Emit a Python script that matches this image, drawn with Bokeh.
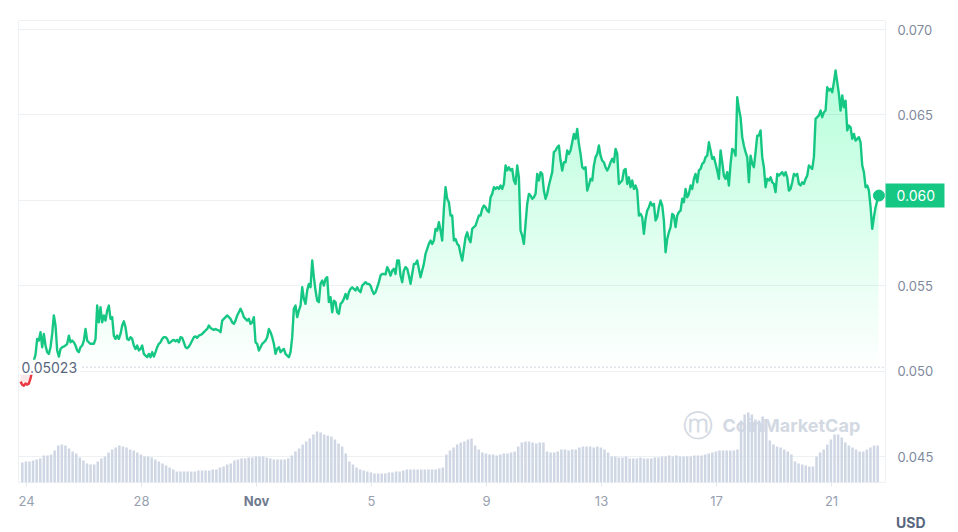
import numpy as np
import pandas as pd
from bokeh.plotting import figure
from bokeh.models import (Range1d, FixedTicker, PrintfTickFormatter, Span, Label, Title,
                          LinearAxis, DatetimeAxis)
from bokeh.embed import file_html
from bokeh.resources import INLINE

# ---------------- data ----------------
price_start = "2023-10-23 19:00"
price_step = "5009s"
price = [
    0.04939, 0.04921, 0.04915, 0.04927, 0.04921, 0.04927, 0.04957, 0.05003, 0.05062, 0.05097,
    0.05189, 0.05179, 0.05228, 0.05140, 0.05218, 0.05150, 0.05111, 0.05101, 0.05140, 0.05218,
    0.05326, 0.05267, 0.05121, 0.05085, 0.05130, 0.05140, 0.05144, 0.05150, 0.05160, 0.05208,
    0.05169, 0.05179, 0.05169, 0.05150, 0.05121, 0.05111, 0.05140, 0.05150, 0.05179, 0.05247,
    0.05179, 0.05169, 0.05160, 0.05160, 0.05160, 0.05189, 0.05384, 0.05286, 0.05374, 0.05286,
    0.05326, 0.05296, 0.05355, 0.05384, 0.05306, 0.05316, 0.05208, 0.05189, 0.05208, 0.05189,
    0.05218, 0.05267, 0.05292, 0.05257, 0.05189, 0.05183, 0.05199, 0.05189, 0.05150, 0.05130,
    0.05150, 0.05121, 0.05130, 0.05150, 0.05101, 0.05091, 0.05082, 0.05101, 0.05082, 0.05111,
    0.05085, 0.05111, 0.05140, 0.05160, 0.05169, 0.05189, 0.05199, 0.05199, 0.05189, 0.05164,
    0.05169, 0.05179, 0.05183, 0.05175, 0.05183, 0.05169, 0.05199, 0.05195, 0.05169, 0.05140,
    0.05134, 0.05144, 0.05160, 0.05179, 0.05199, 0.05203, 0.05195, 0.05208, 0.05212, 0.05218,
    0.05228, 0.05238, 0.05247, 0.05267, 0.05253, 0.05247, 0.05242, 0.05247, 0.05242, 0.05238,
    0.05228, 0.05296, 0.05306, 0.05316, 0.05326, 0.05316, 0.05306, 0.05286, 0.05277, 0.05296,
    0.05326, 0.05345, 0.05365, 0.05345, 0.05316, 0.05306, 0.05296, 0.05306,
    0.05277, 0.05286, 0.05316, 0.05169, 0.05160, 0.05121, 0.05140, 0.05160, 0.05169, 0.05179,
    0.05199, 0.05247, 0.05228, 0.05199, 0.05160, 0.05101, 0.05130, 0.05140, 0.05111, 0.05121,
    0.05130, 0.05101, 0.05091, 0.05082, 0.05111, 0.05199, 0.05365, 0.05384, 0.05316, 0.05355,
    0.05384, 0.05491, 0.05423, 0.05394, 0.05472, 0.05511, 0.05491, 0.05648, 0.05550, 0.05472,
    0.05413, 0.05404, 0.05511, 0.05530, 0.05501, 0.05540, 0.05550, 0.05404, 0.05433, 0.05345,
    0.05413, 0.05404, 0.05345, 0.05335, 0.05394, 0.05404, 0.05423, 0.05452, 0.05423, 0.05462,
    0.05482, 0.05491, 0.05482, 0.05472, 0.05491, 0.05472, 0.05462, 0.05501, 0.05511, 0.05521,
    0.05511, 0.05511, 0.05501, 0.05472, 0.05452, 0.05462, 0.05491, 0.05521, 0.05560, 0.05569,
    0.05569, 0.05566, 0.05609, 0.05589, 0.05560, 0.05589, 0.05599, 0.05569, 0.05648, 0.05648,
    0.05560, 0.05521, 0.05589, 0.05609, 0.05599, 0.05560, 0.05511, 0.05569, 0.05628, 0.05628,
    0.05648, 0.05599, 0.05550, 0.05589, 0.05628, 0.05687, 0.05716, 0.05745, 0.05765, 0.05745,
    0.05765, 0.05833, 0.05823, 0.05872, 0.05823, 0.05765, 0.05950, 0.06077, 0.06009, 0.05989,
    0.05911, 0.05911, 0.05765, 0.05774, 0.05745, 0.05735, 0.05687, 0.05648, 0.05716, 0.05784,
    0.05813, 0.05774, 0.05755, 0.05833, 0.05843, 0.05852, 0.05882, 0.05911,
    0.05911, 0.05950, 0.05970, 0.05960, 0.05940, 0.05931, 0.06018, 0.06038, 0.06077, 0.06067,
    0.06077, 0.06067, 0.06087, 0.06067, 0.06096, 0.06204, 0.06175, 0.06194, 0.06175, 0.06184,
    0.06116, 0.06096, 0.06204, 0.06135, 0.05823, 0.05794, 0.05745, 0.05862, 0.05979, 0.06038,
    0.06028, 0.06009, 0.06018, 0.06038, 0.06155, 0.06116, 0.06165, 0.06155, 0.06057, 0.06009,
    0.06038, 0.06087, 0.06126, 0.06165, 0.06282, 0.06292, 0.06311, 0.06321, 0.06233, 0.06175,
    0.06223, 0.06223, 0.06292, 0.06272, 0.06292, 0.06340, 0.06389, 0.06360, 0.06418, 0.06331,
    0.06272, 0.06194, 0.06184, 0.06194, 0.06057, 0.06087, 0.06126, 0.06116, 0.06204, 0.06253,
    0.06272, 0.06321, 0.06262, 0.06233, 0.06223, 0.06194, 0.06175, 0.06194, 0.06223, 0.06243,
    0.06223, 0.06301, 0.06272, 0.06096, 0.06106, 0.06116, 0.06175, 0.06184, 0.06096, 0.06135,
    0.06077, 0.06116, 0.06067, 0.06087, 0.06057, 0.05911, 0.05921, 0.05901, 0.05804, 0.05891,
    0.05940, 0.05960, 0.05989, 0.05970, 0.05979, 0.05882, 0.05901, 0.05960, 0.05999, 0.05970,
    0.05882, 0.05696, 0.05774, 0.05813, 0.05843, 0.05921, 0.05911, 0.05843, 0.05911, 0.05931,
    0.05940, 0.06009, 0.05989, 0.06067, 0.06018, 0.06038, 0.06087, 0.06067, 0.06126, 0.06155,
    0.06106, 0.06175, 0.06184, 0.06214, 0.06223, 0.06253, 0.06262, 0.06340, 0.06292, 0.06243,
    0.06253, 0.06214, 0.06175, 0.06126, 0.06292, 0.06223, 0.06145, 0.06126, 0.06165, 0.06087,
    0.06214, 0.06301, 0.06292, 0.06262, 0.06604, 0.06536, 0.06487, 0.06370, 0.06321, 0.06282,
    0.06253, 0.06106, 0.06262, 0.06214, 0.06194, 0.06282, 0.06379, 0.06379, 0.06409, 0.06253,
    0.06194, 0.06077, 0.06126, 0.06116, 0.06135, 0.06106, 0.06096, 0.06048, 0.06155, 0.06145,
    0.06155, 0.06165, 0.06145, 0.06165, 0.06135, 0.06057, 0.06067, 0.06106, 0.06155, 0.06145,
    0.06155, 0.06096, 0.06087, 0.06106, 0.06096, 0.06126, 0.06145, 0.06204, 0.06194, 0.06184,
    0.06253, 0.06477, 0.06487, 0.06497, 0.06526, 0.06487, 0.06516, 0.06526, 0.06662, 0.06643,
    0.06653, 0.06633, 0.06692, 0.06760, 0.06692, 0.06623, 0.06526, 0.06614, 0.06545, 0.06584,
    0.06409, 0.06438, 0.06428, 0.06360, 0.06389, 0.06350, 0.06360, 0.06370, 0.06340, 0.06204,
    0.06165, 0.06077, 0.06087, 0.06057, 0.05960, 0.05833, 0.05901, 0.05960, 0.05999, 0.06028,
]

volume_start = "2023-10-23 20:30"
volume_step = "3h"
volume = [
    20, 21, 21, 22, 23, 24, 27, 27, 28, 32,
    37, 38, 37, 34, 31, 29, 25, 22, 19, 18,
    18, 21, 24, 26, 30, 33, 35, 37, 36, 35,
    33, 32, 30, 28, 26, 26, 25, 23, 21, 19,
    17, 15, 13, 11, 11, 11, 11, 11, 11, 12,
    12, 12, 12, 13, 13, 15, 16, 18, 19, 22,
    23, 24, 24, 25, 25, 26, 26, 26, 25, 24,
    23, 23, 23, 23, 24, 27, 31, 34, 38, 41,
    44, 48, 51, 50, 48, 47, 46, 43, 39, 36,
    29, 21, 18, 15, 13, 12, 11, 10, 9, 9,
    9, 9, 10, 10, 11, 11, 12, 13, 13, 13,
    13, 13, 13, 13, 13, 13, 14, 15, 28, 32,
    35, 38, 40, 41, 43, 44, 37, 33, 30, 29,
    28, 28, 27, 28, 29, 29, 30, 31, 36, 40,
    41, 41, 40, 39, 40, 40, 31, 30, 30, 31,
    33, 33, 32, 33, 33, 35, 36, 36, 36, 35,
    36, 35, 33, 30, 26, 26, 25, 25, 26, 24,
    24, 24, 25, 24, 24, 24, 25, 25, 26, 26,
    27, 26, 27, 26, 26, 26, 26, 27, 27, 27,
    28, 29, 30, 31, 32, 32, 32, 32, 32, 33,
    62, 68, 70, 68, 63, 62, 66, 58, 42, 38,
    36, 35, 33, 31, 28, 21, 19, 18, 17, 16,
    16, 26, 30, 33, 38, 43, 48, 48, 45, 40,
    37, 35, 33, 31, 31, 33, 35, 37, 37,
]

baseline = 0.05023
y_ticks = [0.045, 0.050, 0.055, 0.060, 0.065, 0.070]
x_tick_dates = ["2023-10-24", "2023-10-28", "2023-11-01", "2023-11-05",
                "2023-11-09", "2023-11-13", "2023-11-17", "2023-11-21"]
x_tick_labels = ["24", "28", "Nov", "5", "9", "13", "17", "21"]
month_label = "Nov"
x_start, x_end = "2023-10-23 17:19", "2023-11-22 21:04"
y_start, y_end = 0.04348, 0.07053
vol_max = 462
currency = "USD"
watermark = "CoinMarketCap"

GREEN = "#16c784"
RED = "#ea3943"
FONT = "Inter"


def ms(ts):
    return pd.Timestamp(ts).value / 1e6


t = pd.date_range(price_start, periods=len(price), freq=price_step)
tms = t.asi8 / 1e6
pr = np.array(price)
tv = pd.date_range(volume_start, periods=len(volume), freq=volume_step).asi8 / 1e6

p = figure(width=958, height=532, x_axis_type="datetime", y_axis_location="right",
           x_range=Range1d(ms(x_start), ms(x_end)), y_range=Range1d(y_start, y_end),
           output_backend="svg", toolbar_location=None,
           min_border_left=18, min_border_right=73, min_border_top=20, min_border_bottom=50)
p.background_fill_color = "white"
p.border_fill_color = "white"
p.outline_line_color = "#eef1f4"

# watermark (behind bars)
p.add_layout(Label(x=ms(x_end), y=y_start, x_offset=-203, y_offset=57, text="ⓜ",
                   text_font="DejaVu Sans", text_font_size="30px", text_color="#d3d9e3",
                   text_baseline="middle", level="underlay"))
p.add_layout(Label(x=ms(x_end), y=y_start, x_offset=-163, y_offset=57, text=watermark,
                   text_font=FONT, text_font_size="18px", text_font_style="bold",
                   text_color="#d3d9e3", text_baseline="middle", level="underlay"))

# volume bars
p.extra_y_ranges = {"vol": Range1d(0, vol_max)}
p.vbar(x=tv, top=volume, bottom=0, width=3 * 3600 * 1000 * 0.7, y_range_name="vol",
       fill_color="#cfd6e4", line_color=None)

# gradient area between line and baseline
N = 36
a = 1 - (1 - 0.25) ** (1 / N)
top_p = pr.max()
for k in range(N):
    lev = baseline + (top_p - baseline) * k / N
    p.varea(x=tms, y1=np.full(len(pr), lev), y2=np.maximum(pr, lev),
            fill_color=GREEN, fill_alpha=a)
p.varea(x=tms, y1=np.minimum(pr, baseline), y2=np.full(len(pr), baseline),
        fill_color=RED, fill_alpha=0.12)

# price line, coloured by side of baseline
above = pr >= baseline
xs, ys, cols = [], [], []
s = 0
n = len(pr)
for i in range(1, n + 1):
    if i == n or above[i] != above[s]:
        e = min(i, n - 1)
        xs.append(list(tms[s:e + 1]))
        ys.append(list(pr[s:e + 1]))
        cols.append(GREEN if above[s] else RED)
        s = i
p.multi_line(xs=xs, ys=ys, line_color=cols, line_width=2.4, line_join="round")

p.scatter(x=[tms[-1]], y=[pr[-1]], size=11, fill_color=GREEN, line_color=GREEN)

# baseline (opening price)
p.add_layout(Span(location=baseline, dimension="width", line_color="#a6b0c3",
                  line_dash="1 3", line_width=1))
p.add_layout(Label(x=tms[0], y=baseline, x_offset=-2, text=f"{baseline:.5f}",
                   text_font=FONT, text_font_size="14px", text_color="#58667e",
                   text_baseline="middle", background_fill_color="white",
                   padding=(3, 2)))

# grid
p.xgrid.visible = False
p.ygrid.ticker = FixedTicker(ticks=y_ticks)
p.ygrid.grid_line_color = "#eef1f4"

# main price axis (right, next to the frame)
yax = p.yaxis[0]
yax.ticker = FixedTicker(ticks=y_ticks)
yax.formatter = PrintfTickFormatter(format="%.3f")
yax.axis_line_color = None
yax.major_tick_line_color = None
yax.minor_tick_line_color = None
yax.major_tick_out = 6
yax.major_label_standoff = 6
yax.major_label_text_font = FONT
yax.major_label_text_font_size = "13px"
yax.major_label_text_color = "#808a9d"

# last-price tag: a second right axis stacked outside the first one; its label and a
# thick green minor tick are pulled back inward so they sit over the first axis
tag = LinearAxis(ticker=FixedTicker(ticks=[pr[-1]], minor_ticks=[pr[-1]]),
                 formatter=PrintfTickFormatter(format="%.3f"),
                 axis_line_color=None,
                 major_tick_line_color=None, major_tick_out=0, major_tick_in=0,
                 minor_tick_line_color=GREEN, minor_tick_line_width=24,
                 minor_tick_line_cap="butt", minor_tick_out=8, minor_tick_in=51,
                 major_label_standoff=-48, major_label_text_color="white",
                 major_label_text_font=FONT, major_label_text_font_size="14px")
p.add_layout(tag, "right")

# time axis (below)
x_ticks = [ms(d) for d in x_tick_dates]
xax = p.xaxis[0]
xax.ticker = FixedTicker(ticks=x_ticks)
xax.major_label_overrides = {int(v): ("" if lab == month_label else lab)
                             for v, lab in zip(x_ticks, x_tick_labels)}
xax.axis_line_color = None
xax.major_tick_line_color = "#e3e7ee"
xax.major_tick_out = 4
xax.major_tick_in = 0
xax.minor_tick_line_color = None
xax.major_label_standoff = 9
xax.major_label_text_font = FONT
xax.major_label_text_font_size = "13px"
xax.major_label_text_color = "#98a0b0"

# month name in bold: second axis stacked below, label pulled back up into the first row
month_ticks = [v for v, lab in zip(x_ticks, x_tick_labels) if lab == month_label]
mon = DatetimeAxis(ticker=FixedTicker(ticks=month_ticks),
                   major_label_overrides={int(v): month_label for v in month_ticks},
                   axis_line_color=None, major_tick_line_color=None,
                   major_tick_out=0, major_tick_in=0, minor_tick_line_color=None,
                   major_label_standoff=-16, major_label_text_font=FONT,
                   major_label_text_font_size="13px", major_label_text_font_style="bold",
                   major_label_text_color="#6f7a8e")
p.add_layout(mon, "below")

p.add_layout(Title(text=currency, align="right", offset=-40, standoff=0, text_font=FONT,
                   text_font_size="14px", text_font_style="bold", text_color="#58667e"),
             "below")

open("out.html", "w").write(file_html(p, INLINE))
